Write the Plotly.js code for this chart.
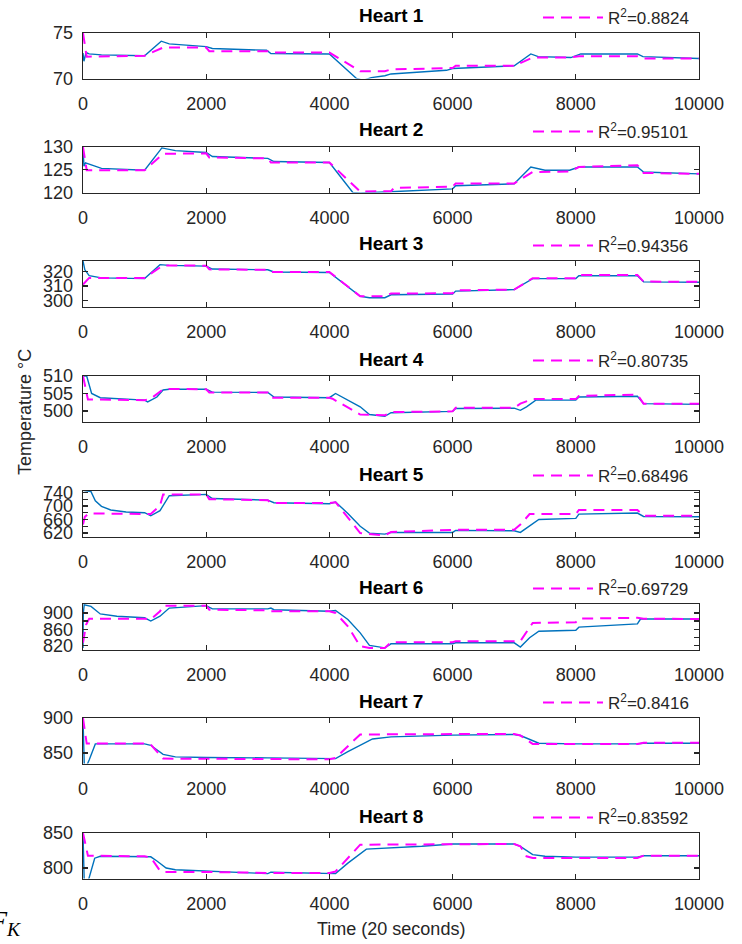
<!DOCTYPE html>
<html>
<head>
<meta charset="utf-8">
<script src="https://cdn.plot.ly/plotly-3.0.1.min.js"></script>
<style>html,body{margin:0;padding:0;background:#fff;}#chart{width:742px;height:944px;}</style>
</head>
<body>
<div id="chart"></div>
<script>
// ---------- DATA ----------
const heartNames = ["Heart 1","Heart 2","Heart 3","Heart 4","Heart 5","Heart 6","Heart 7","Heart 8"];
const r2Labels = ["0.8824","0.95101","0.94356","0.80735","0.68496","0.69729","0.8416","0.83592"];
const xTicks = [0,2000,4000,6000,8000,10000];

// Heart 1
const h1MeasX = [0,15,50,100,300,1000,1270,1400,2000,2100,2980,3050,4000,4440,4550,4680,4900,5000,5900,6000,7000,7270,7390,7920,8080,9000,9090,10000];
const h1MeasY = [72.8,71.9,72.85,72.7,72.6,72.5,74.1,73.8,73.5,73.3,73.1,72.75,72.7,70.0,69.8,70.1,70.3,70.5,70.9,71.1,71.4,72.7,72.4,72.3,72.7,72.7,72.4,72.2];
const h1ModX = [0,60,1000,1300,2000,2050,3000,3050,4000,4500,4900,5000,6000,6050,7000,7300,7900,8050,9000,9100,10000];
const h1ModY = [75,72.4,72.5,73.4,73.4,73.0,73.0,72.85,72.85,70.8,70.8,71.0,71.15,71.4,71.4,72.3,72.3,72.45,72.45,72.2,72.2];

// Heart 2
const h2MeasX = [0,15,40,300,1000,1280,1500,2000,2100,3000,3100,4000,4380,4500,4900,6000,6050,7000,7270,7500,7900,8050,9000,9100,10000];
const h2MeasY = [130,125.8,126.5,125.3,124.9,129.8,129.2,128.8,127.9,127.5,126.8,126.6,120.0,119.9,120.1,120.8,121.5,121.9,125.6,124.9,124.9,125.6,125.6,124.5,124.1];
const h2ModX = [0,60,1000,1300,2000,2050,3000,3050,4000,4500,5000,5050,6000,6050,7000,7300,7900,8050,9000,9100,10000];
const h2ModY = [130,124.9,124.9,128.5,128.6,127.7,127.5,126.6,126.6,120.2,120.3,121.0,121.3,122.0,122.0,124.5,124.6,125.6,126.0,124.3,124.1];

// Heart 3
const h3MeasX = [0,30,100,300,1000,1250,1400,2000,2100,3000,3100,4000,4500,4650,4900,5000,6000,6050,7000,7300,8000,8050,9000,9100,10000];
const h3MeasY = [327,321,317,315.5,315,324.5,324,323.5,321.5,321,319.5,319.2,303,302,302,304,304.5,306.5,307.5,315,315,317,317,312.8,312.5];
const h3ModX = [0,100,1000,1300,2000,2050,3000,3050,4000,4500,4900,5000,6000,6050,7000,7300,8000,8050,9000,9100,10000];
const h3ModY = [311,315.5,315.5,324,323.8,321.3,321,319.5,319.5,303,303,304.8,305,307,307.5,315.3,315.3,317.5,317.5,313,312.8];

// Heart 4
const h4MeasX = [0,60,140,280,1000,1050,1200,1300,1400,2000,2100,3000,3100,4000,4100,4500,4650,4900,5000,6000,6050,7000,7100,7200,7350,8000,8050,9000,9100,10000];
const h4MeasY = [510,510,505,503.8,503.1,502.6,504,506,506.2,506.2,505.4,505.3,504,503.8,505,501.2,499,498.5,499.5,499.9,500.7,500.8,500.2,501.2,503.1,503.1,504.0,504.2,502.1,501.9];
const h4ModX = [0,80,1000,1100,1300,1400,2000,2050,3000,3050,4000,4050,4500,4900,5050,6000,6050,7000,7100,7300,8000,8050,9000,9100,10000];
const h4ModY = [510,503.3,503.1,503.5,506.2,506.3,506.2,505.3,505.3,503.8,503.8,503.5,499.0,498.8,499.7,499.9,500.9,500.9,502.1,503.4,503.4,504.3,504.7,502.1,502.1];

// Heart 5
const h5MeasX = [0,130,200,300,450,700,1000,1100,1250,1400,2000,2100,3000,3100,4000,4100,4300,4500,4650,4900,5000,6000,6050,7000,7100,7250,7400,8000,8050,9000,9100,10000];
const h5MeasY = [746,742,715,699,688,682,680,671,686,730,734,722,717,709.5,706.5,711.5,678,640,620,617,622,622,628,627,622,640,660,663.5,676,679,669,668];
const h5ModX = [0,30,95,1000,1100,1250,1300,2000,2050,3000,3050,4000,4100,4500,4900,5000,6000,6050,7000,7100,7250,8000,8050,9000,9100,10000];
const h5ModY = [645,668,678,678,676,701,734,734,720,717,708.5,708.5,711,620,613,623,628,630,630,645,676,676,688,688,671,671];

// Heart 6
const h6MeasX = [0,5,20,130,280,550,1000,1100,1250,1400,2000,2100,3000,3050,3100,4000,4100,4300,4500,4650,4900,5000,6000,6050,7000,7100,7250,7400,8000,8050,9000,9050,10000];
const h6MeasY = [814,900,920,916,897.5,892,888,880,892,912,918,910,910,912,908,904,906,884,851,820,814,824,824,826.5,826.5,816,839,855,857.5,865,873,885,885];
const h6ModX = [0,50,100,1000,1100,1250,1300,2000,2050,3000,3050,4000,4100,4300,4500,4650,4900,5000,6000,6050,7000,7100,7300,8000,8050,9000,9100,10000];
const h6ModY = [826.5,871,886,886,884,904,918,918,908,906.5,904,904,900,867,818,814,814,828,828,830.5,830.5,830.5,875.5,877,886,888,886,885];

// Heart 7
const h7MeasX = [0,20,50,100,200,1000,1100,1300,1500,2000,3000,4000,4100,4300,4700,5000,6000,7000,7100,7400,8000,9000,9100,10000];
const h7MeasY = [900,835,830,840,863,863,861,848,844.5,843.5,843,842,842,852,870,873,875.5,876.5,875,864,863,863,864,864];
const h7ModX = [0,60,1000,1100,1300,2000,3000,4000,4100,4500,6000,7000,7100,7300,8000,9000,9100,10000];
const h7ModY = [900,863.5,863.5,862,842,841.5,841,841,843,876.5,877,877,875,863,863,863,864.5,864.5];

// Heart 8
const h8MeasX = [0,20,80,190,280,1000,1100,1200,1350,1500,2000,3000,3050,4000,4100,4300,4600,5500,6000,7000,7100,7300,7500,8000,9000,9100,10000];
const h8MeasY = [850,780,780,814,816.7,816.7,816,810,800,797.6,796,792,794,792,792,807,827,831,834.3,834.3,831,819,816.7,815.5,815.5,817.6,817.6];
const h8ModX = [0,80,1000,1100,1250,1300,2000,3000,4000,4100,4500,6000,7000,7100,7200,7300,8000,9000,9100,10000];
const h8ModY = [850,817.6,816.7,815,796,794.3,794.3,793,793,795,833.3,834.3,834.3,831,816.7,814.3,814.3,814.3,817.6,817.6];

// y-axis ranges and ticks
const yRanges = [[70,75],[120,130],[296,327],[497,510],[610,744],[810,922],[835,900],[785,850]];
const yTickVals = [[70,75],[120,125,130],[300,310,320],[500,505,510],[620,640,660,680,700,720,740],[820,840,860,880,900,920],[850,900],[800,850]];
const yTickText = [["70","75"],["120","125","130"],["300","310","320"],["500","505","510"],["620","","660","","700","","740"],["820","","860","","900",""],["850","900"],["800","850"]];

const measX = [h1MeasX,h2MeasX,h3MeasX,h4MeasX,h5MeasX,h6MeasX,h7MeasX,h8MeasX];
const measY = [h1MeasY,h2MeasY,h3MeasY,h4MeasY,h5MeasY,h6MeasY,h7MeasY,h8MeasY];
const modX = [h1ModX,h2ModX,h3ModX,h4ModX,h5ModX,h6ModX,h7ModX,h8ModX];
const modY = [h1ModY,h2ModY,h3ModY,h4ModY,h5ModY,h6ModY,h7ModY,h8ModY];

// ---------- LAYOUT ----------
const W = 742, H = 944;
const xLeft = 83, xRight = 699;
const tops = [33,147,261,376,491,604,718,833];
const plotH = 45.5;
const FONT = "Liberation Sans, Arial, Helvetica, sans-serif";
const INK = "#262626";

const traces = [];
const layout = {
  width: W, height: H,
  margin: {l:0, r:0, t:0, b:0},
  paper_bgcolor: "#fff", plot_bgcolor: "#fff",
  showlegend: true,
  font: {family: FONT, color: INK, size: 18},
  annotations: [],
};

for (let i = 0; i < 8; i++) {
  const n = i + 1;
  const xa = n === 1 ? "x" : "x" + n;
  const ya = n === 1 ? "y" : "y" + n;
  const lg = n === 1 ? "legend" : "legend" + n;
  traces.push({
    x: measX[i], y: measY[i], xaxis: xa, yaxis: ya, type: "scatter", mode: "lines",
    line: {color: "#0072BD", width: 1.4}, showlegend: false, hoverinfo: "skip"
  });
  traces.push({
    x: modX[i], y: modY[i], xaxis: xa, yaxis: ya, type: "scatter", mode: "lines",
    line: {color: "#FF00FF", width: 2, dash: "11px,7px"},
    name: "R<sup>2</sup>=" + r2Labels[i], legend: lg, showlegend: true
  });
  const top = tops[i], bot = tops[i] + plotH;
  const axCommon = {
    showline: true, linecolor: INK, linewidth: 1.3, mirror: "ticks",
    ticks: "inside", ticklen: 5, tickcolor: INK, tickwidth: 1.3,
    showgrid: false, zeroline: false,
    tickfont: {family: FONT, size: 18, color: INK}
  };
  layout[n === 1 ? "xaxis" : "xaxis" + n] = Object.assign({}, axCommon, {
    domain: [xLeft / W, xRight / W], anchor: ya, range: [0, 10000],
    tickvals: xTicks, ticktext: xTicks.map(String), ticklabelstandoff: 9
  });
  layout[n === 1 ? "yaxis" : "yaxis" + n] = Object.assign({}, axCommon, {
    domain: [1 - bot / H, 1 - top / H], anchor: xa, range: yRanges[i],
    tickvals: yTickVals[i], ticktext: yTickText[i], ticklabelstandoff: 5
  });
  layout[lg] = {
    x: 694 / W, xanchor: "right", y: 1 - (top - 15) / H, yanchor: "middle",
    bgcolor: "rgba(0,0,0,0)", borderwidth: 0, itemwidth: 60,
    font: {family: FONT, size: 17, color: INK}, tracegroupgap: 0
  };
  layout.annotations.push({
    text: "<b>" + heartNames[i] + "</b>", xref: "paper", yref: "paper",
    x: (xLeft + xRight) / 2 / W, y: 1 - (top - 17) / H, xanchor: "center", yanchor: "middle",
    showarrow: false, font: {family: FONT, size: 19, color: "#000"}
  });
}

layout.annotations.push({
  text: "Temperature °C", xref: "paper", yref: "paper", x: 25 / W, y: 1 - 412 / H,
  xanchor: "center", yanchor: "middle", textangle: -90, showarrow: false,
  font: {family: FONT, size: 18, color: INK}
});
layout.annotations.push({
  text: "Time (20 seconds)", xref: "paper", yref: "paper", x: (xLeft + xRight) / 2 / W, y: 1 - 929 / H,
  xanchor: "center", yanchor: "middle", showarrow: false,
  font: {family: FONT, size: 18, color: INK}
});
layout.annotations.push({
  text: "<i>F</i><sub><i>K</i></sub>", xref: "paper", yref: "paper", x: -13 / W, y: 1 - 922 / H,
  xanchor: "left", yanchor: "middle", showarrow: false,
  font: {family: "Liberation Serif, DejaVu Serif, serif", size: 28, color: "#000"}
});

Plotly.newPlot("chart", traces, layout, {staticPlot: true, displayModeBar: false});
</script>
</body>
</html>
